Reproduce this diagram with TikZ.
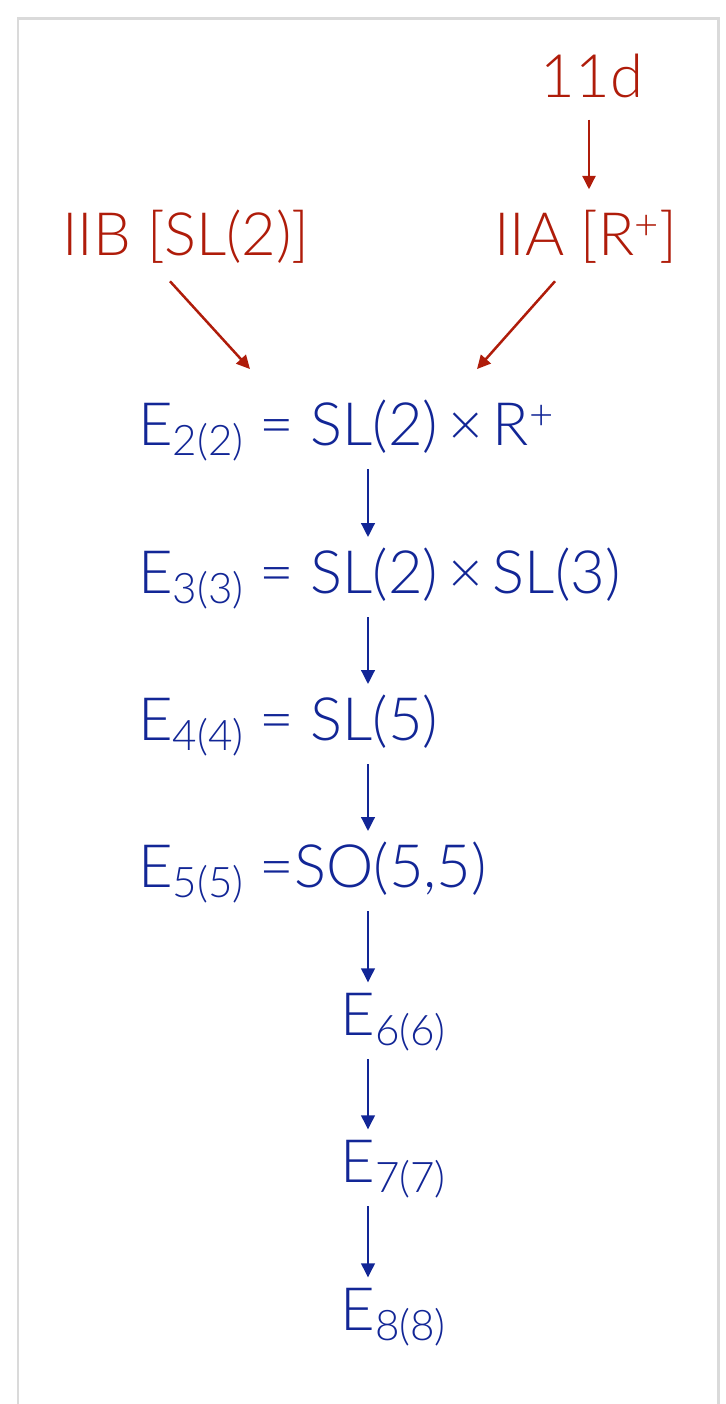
\documentclass[tikz,border=0pt]{standalone}
\usepackage{fontspec}
\setmainfont{Lato Light}
\usetikzlibrary{arrows.meta,calc}

\definecolor{stringred}{RGB}{175,28,10}
\definecolor{groupblue}{RGB}{18,38,150}
\definecolor{framegray}{RGB}{218,218,218}

% E with a split real form as subscript
\newcommand{\Esub}[1]{E\raisebox{-0.17em}{\fontsize{24}{24}\selectfont #1}}

\tikzset{
  lbl/.style={inner sep=0pt, font=\fontsize{34}{36}\selectfont},
  redlbl/.style={lbl, text=stringred},
  bluelbl/.style={lbl, text=groupblue},
  redarrow/.style={draw=stringred, line width=0.05cm,
    -{Triangle[length=0.27cm,width=0.26cm]}},
  bluearrow/.style={draw=groupblue, line width=0.05cm,
    -{Triangle[length=0.28cm,width=0.27cm]}},
}

\begin{document}
\begin{tikzpicture}[x=0.02cm,y=-0.02cm]
    \useasboundingbox (0,0) rectangle (725,1404);

    % Cornice
    \draw[framegray, line width=0.06cm] (18,1404) -- (18,18) -- (718,18) -- (718,1404);

    % Teorie di stringa
    \node[redlbl, anchor=base] (d11) at (592,97) {11d};
    \node[redlbl, anchor=base] (iib) at (186,255) {IIB [SL(2)]};
    \node[redlbl, anchor=base] (iia) at (586,255) {IIA [R\textsuperscript{+}]};

    % Gruppi di dualita
    \node[bluelbl, anchor=base west] (e2) at (138,445) {\Esub{2(2)} = SL(2)\,×\,R\textsuperscript{+}};
    \node[bluelbl, anchor=base west] (e3) at (138,593) {\Esub{3(3)} = SL(2)\,×\,SL(3)};
    \node[bluelbl, anchor=base west] (e4) at (138,740) {\Esub{4(4)} = SL(5)};
    \node[bluelbl, anchor=base west] (e5) at (138,887) {\Esub{5(5)} =SO(5,5)};
    \node[bluelbl, anchor=base west] (e6) at (340,1035) {\Esub{6(6)}};
    \node[bluelbl, anchor=base west] (e7) at (340,1182) {\Esub{7(7)}};
    \node[bluelbl, anchor=base west] (e8) at (340,1330) {\Esub{8(8)}};

    \coordinate (spine) at (368,0);

    % Frecce rosse
    \draw[redarrow] ($(d11.south)+(-3,22)$) -- ($(iia.north)+(3,-20)$);
    \draw[redarrow] ($(iib.south)+(-16,18)$) -- ($(e2.north west)+(112,-30)$);
    \draw[redarrow] ($(iia.south)+(-31,18)$) -- ($(e2.north west)+(339,-30)$);

    % Catena verticale
    \foreach \a/\b in {e2/e3,e3/e4,e4/e5,e5/e6,e6/e7,e7/e8} {
        \draw[bluearrow, shorten <=0.16cm, shorten >=0.2cm] (\a.south -| spine) -- (\b.north -| spine);
    }
\end{tikzpicture}
\end{document}
